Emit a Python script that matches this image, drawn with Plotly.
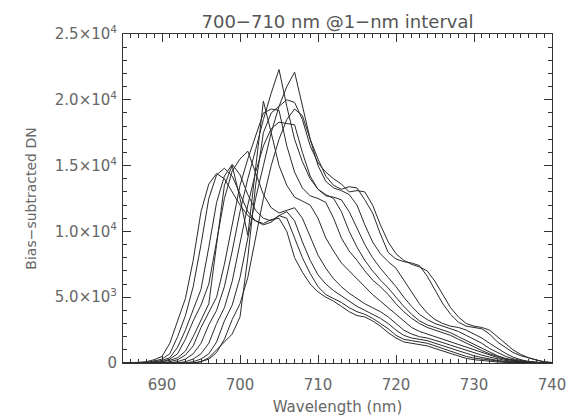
import plotly.graph_objects as go

wavelength = list(range(685, 741))

s700 = [0,0,50,100,250,500,1500,3200,4900,7800,11500,13600,14400,14000,13000,12000,11200,10800,10600,10900,11000,10000,8000,6900,6000,5400,5000,4700,4300,3900,3600,3500,3200,2800,2300,1900,1600,1500,1400,1300,1100,900,700,500,350,250,180,120,80,50,30,20,0,0,0,0]
s701 = [0,0,0,50,150,300,700,2000,3600,5800,9000,12500,14300,14800,14200,12800,11500,10800,10500,10700,11200,11000,9500,8000,6800,5800,5200,4900,4600,4200,3900,3700,3400,3000,2600,2100,1800,1700,1600,1500,1300,1100,900,700,500,380,300,200,130,80,50,30,20,0,0,0]
s702 = [0,0,0,0,80,200,400,1200,2500,4000,5600,8800,12200,14200,15100,14300,12800,11600,11000,10800,11200,11500,10800,9200,7800,6700,6000,5500,5100,4700,4300,4000,3700,3400,3000,2500,2100,1900,1800,1700,1500,1300,1100,900,700,550,420,300,200,120,80,50,30,10,0,0]
s703 = [0,0,0,0,50,100,300,700,1800,3200,4400,6000,9200,12500,14600,15500,16100,14500,12800,11800,11400,11600,11800,11000,9600,8200,7200,6400,5800,5300,4900,4500,4200,3900,3500,3000,2500,2200,2000,1900,1750,1550,1350,1150,950,750,600,450,320,200,130,80,40,20,0,0]
s704 = [0,0,0,0,0,100,200,400,900,2000,3300,4500,9000,13500,15000,12500,9700,15000,19900,17500,15000,13500,12600,12300,12000,11000,9500,8500,7600,7000,6400,5800,5200,4700,4200,3700,3200,2700,2400,2200,2000,1800,1600,1400,1200,1000,800,600,420,280,180,100,50,20,0,0]
s705 = [0,0,0,0,0,0,100,250,600,1300,2700,3800,5000,7500,10500,13500,15500,17200,19000,19300,19200,16500,14500,13300,12700,12500,12200,11000,9500,8500,7800,7000,6300,5800,5200,4500,3900,3400,3000,2700,2500,2300,2100,1800,1500,1200,950,700,500,330,200,120,60,30,0,0]
s706 = [0,0,0,0,0,0,0,100,300,700,1500,2900,4000,5800,8500,11500,14000,16200,18500,20500,22300,19500,17000,15300,14000,13200,12800,12500,11500,10000,8800,7800,7000,6300,5700,5000,4300,3700,3200,2900,2700,2500,2300,2000,1700,1400,1100,800,550,350,220,130,70,30,0,0]
s707 = [0,0,0,0,0,0,0,0,100,300,700,1500,3000,4200,6200,9000,12000,14500,16500,17800,18300,18200,18100,16000,14200,13200,12700,12600,12400,11500,10200,9000,8000,7200,6500,5800,5000,4300,3700,3300,3000,2800,2600,2400,2100,1800,1500,1100,800,520,320,180,90,40,10,0]
s708 = [0,0,0,0,0,0,0,0,0,100,300,700,1600,3200,4400,6500,9500,12500,15000,17500,19500,21000,22100,19500,17000,15000,13800,13300,13100,12800,12000,10500,9200,8300,7700,7200,6300,5400,4500,3800,3300,3000,2800,2700,2500,2200,1900,1500,1100,750,450,250,120,50,20,0]
s709 = [0,0,0,0,0,0,0,0,0,0,100,300,800,1800,3300,4500,6500,9500,12500,15000,17000,18500,19300,18800,17000,15500,14200,13500,13200,13400,13300,12400,11400,9800,8400,7900,7700,7600,7400,6600,5500,4500,3700,3100,2800,2700,2600,2200,1600,1200,800,550,380,200,80,30]
s710 = [0,0,0,0,0,0,0,0,0,0,100,400,1000,1600,2200,3500,8000,13500,17500,19000,19500,20000,19800,18500,16500,15200,14500,14000,13600,13000,13100,13000,12000,10500,9200,8300,7800,7500,7300,7000,6200,5200,4200,3500,3000,2800,2700,2500,2000,1500,1000,650,400,220,100,40]

series = [s700, s701, s702, s703, s704, s705, s706, s707, s708, s709, s710]

y_tickvals = [0, 5000, 10000, 15000, 20000, 25000]
y_ticktext = ["0", "5.0×10<sup>3</sup>", "1.0×10<sup>4</sup>", "1.5×10<sup>4</sup>",
              "2.0×10<sup>4</sup>", "2.5×10<sup>4</sup>"]
x_tickvals = [690, 700, 710, 720, 730, 740]

fig = go.Figure()
for s in series:
    fig.add_trace(go.Scatter(x=wavelength, y=s, mode="lines",
                             line=dict(color="#2a2a2a", width=1),
                             showlegend=False, hoverinfo="skip"))

font_family = "DejaVu Sans, sans-serif"
text_color = "#666666"
# page body has an 8px margin, so the figure is sized/placed to compensate
fig.update_layout(
    width=569, height=408,
    margin=dict(l=115, r=25, t=26, b=53),
    paper_bgcolor="white", plot_bgcolor="white",
    font=dict(family=font_family, color=text_color, size=15),
    title=dict(text="700−710 nm @1−nm interval", xref="paper", x=0.5, xanchor="center",
               yref="container", y=0.967, yanchor="middle",
               font=dict(size=18, color="#555555")),
)
fig.update_xaxes(
    range=[685, 740], tickvals=x_tickvals, showgrid=False, zeroline=False,
    automargin=False, ticklabelstandoff=8,
    showline=True, linecolor="#333333", linewidth=1, mirror="ticks",
    ticks="inside", ticklen=8, tickcolor="#333333",
    minor=dict(ticks="inside", ticklen=4, dtick=1, tick0=685, tickcolor="#333333"),
    tickfont=dict(size=15, color=text_color),
    title=dict(text="Wavelength (nm)", font=dict(size=15, color=text_color), standoff=9),
)
fig.update_yaxes(
    range=[0, 25000], tickvals=y_tickvals, ticktext=y_ticktext, showgrid=False,
    automargin=False, ticklabelstandoff=2,
    zeroline=False, showline=True, linecolor="#333333", linewidth=1, mirror="ticks",
    ticks="inside", ticklen=8, tickcolor="#333333",
    minor=dict(ticks="inside", ticklen=4, dtick=1000, tick0=0, tickcolor="#333333"),
    tickfont=dict(size=15, color=text_color),
    title=dict(text="Bias−subtracted DN", font=dict(size=14, color=text_color), standoff=14),
)
fig.write_html("out.html")
